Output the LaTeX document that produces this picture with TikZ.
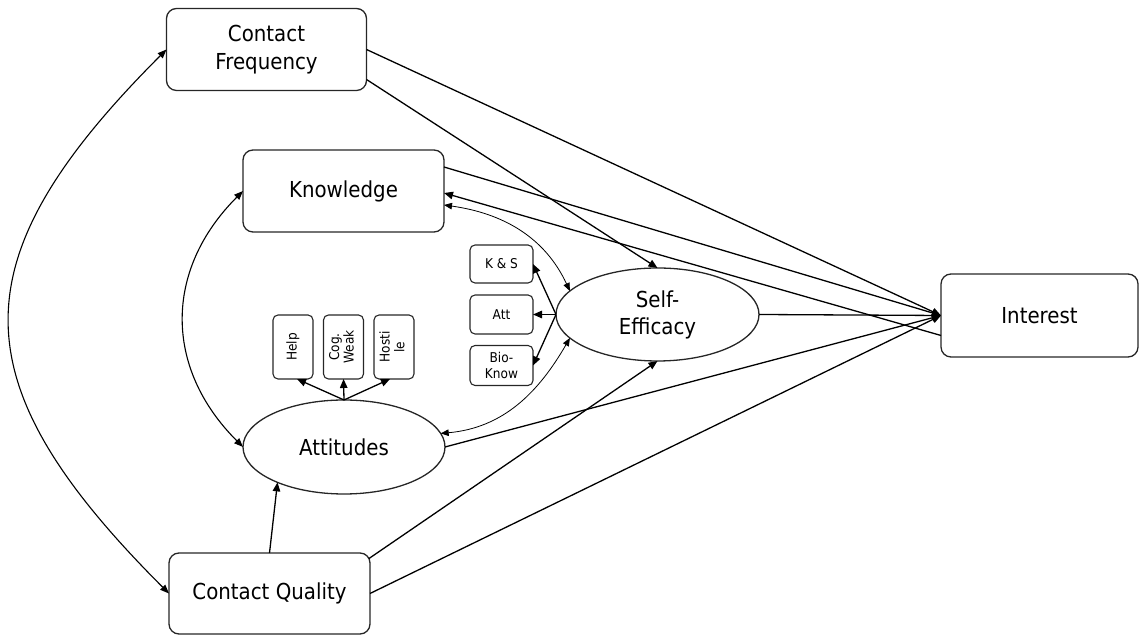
\documentclass[tikz,border=0pt]{standalone}
\usepackage{fontspec}
\setmainfont{DejaVu Sans}[FakeStretch=0.9]
\usetikzlibrary{arrows.meta,calc,shapes.geometric}

\begin{document}
\begin{tikzpicture}[x=1pt,y=1pt,
  every node/.style={inner sep=0pt, outer sep=0pt, text=black},
  bigbox/.style={draw=black!85, line width=1.3pt, rounded corners=10pt,
    minimum width=200pt, minimum height=82pt, align=center,
    font=\fontsize{22}{28}\selectfont},
  latent/.style={ellipse, draw=black!85, line width=1.3pt,
    minimum width=203pt, minimum height=93pt, align=center,
    font=\fontsize{22}{27}\selectfont},
  smallbox/.style={draw=black!85, line width=1.1pt, rounded corners=5pt,
    minimum width=63pt, minimum height=39pt, align=center,
    font=\fontsize{13.5}{16}\selectfont},
  itembox/.style={draw=black!85, line width=1.1pt, rounded corners=5pt,
    minimum width=40pt, minimum height=64pt,
    font=\fontsize{13.5}{14.5}\selectfont},
  link/.style={line width=1.3pt, -{Triangle[length=9pt,width=7.5pt]}},
  bicov/.style={line width=1.1pt,
    {Triangle[length=9pt,width=7pt]}-{Triangle[length=9pt,width=7pt]}},
  cov/.style={line width=0.8pt,
    {Triangle[length=8pt,width=6.5pt]}-{Triangle[length=8pt,width=6.5pt]}},
]
\useasboundingbox (0,0) rectangle (1139,636);

% main constructs
\node[bigbox] (cf) at (266.5,586.5) {Contact\\Frequency};
\node[bigbox, minimum width=201pt] (kn) at (343.5,445) {Knowledge};
\node[bigbox, minimum width=197pt, minimum height=83pt] (int) at (1039.5,320.5) {Interest};
\node[bigbox, minimum width=201pt, minimum height=81pt] (cq) at (269.5,42.5) {Contact Quality};
\node[latent, minimum width=202pt, minimum height=94pt] (att) at (344,189) {Attitudes};
\node[latent] (se) at (657.5,321.5) {Self-\\Efficacy};

% attitude indicators
\node[itembox] (help) at (293,289) {\rotatebox{90}{Help}};
\node[itembox] (cog) at (343.5,289)
  {\rotatebox{90}{\begin{tabular}{@{}c@{}}Cog.\\Weak\end{tabular}}};
\node[itembox] (host) at (394,289)
  {\rotatebox{90}{\begin{tabular}{@{}c@{}}Hosti\\le\end{tabular}}};

% self-efficacy indicators
\node[smallbox, minimum height=38pt] (ks) at (501.5,372) {K \& S};
\node[smallbox] (attb) at (501.5,321.5) {Att};
\node[smallbox, minimum height=40pt] (bio) at (501.5,270.5) {Bio-\\Know};

% paths to interest
\draw[link] (cf.east) -- (int.west);
\draw[link] ($(kn.east)+(0,24)$) -- (int.west);
\draw[link] (se.east) -- (int.west);
\draw[link] (att.east) -- (int.west);
\draw[link] (cq.east) -- (int.west);
\draw[link] ($(int.west)+(0,-20)$) -- ($(kn.east)+(0,-2)$);

% paths to self-efficacy and attitudes
\draw[link] ($(cf.east)+(0,-30)$) -- (se.north);
\draw[link] ($(cq.east)+(-1,35)$) -- (se.south);
\draw[link] (cq.north) -- (att.208);

% covariances
\draw[bicov] (cf.west) to[out=225, in=135, looseness=1.4] (cq.west);
\draw[bicov] (kn.west) to[out=225, in=135, looseness=1.12] (att.west);
\draw[cov] ($(kn.east)+(0,-14)$) to[out=-8, in=115] (se.165);
\draw[cov] (att.8) to[out=5, in=240] (se.195);

% measurement paths
\draw[link] (se.west) -- (ks.east);
\draw[link] (se.west) -- (attb.east);
\draw[link] (se.west) -- (bio.east);
\draw[link] (att.north) -- ($(help.south)+(4,0)$);
\draw[link] (att.north) -- (cog.south);
\draw[link] (att.north) -- ($(host.south)+(-4,0)$);
\end{tikzpicture}
\end{document}
